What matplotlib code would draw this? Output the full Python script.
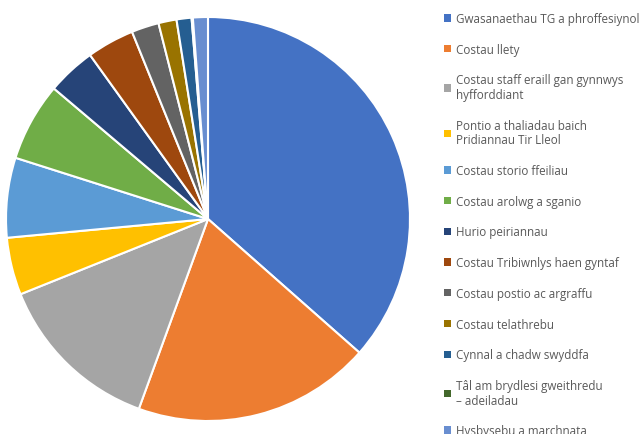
import matplotlib
matplotlib.use("Agg")
import matplotlib.pyplot as plt

categories = [
    "Gwasanaethau TG a phroffesiynol",
    "Costau llety",
    "Costau staff eraill gan gynnwys\nhyfforddiant",
    "Pontio a thaliadau baich\nPridiannau Tir Lleol",
    "Costau storio ffeiliau",
    "Costau arolwg a sganio",
    "Hurio peiriannau",
    "Costau Tribiwnlys haen gyntaf",
    "Costau postio ac argraffu",
    "Costau telathrebu",
    "Cynnal a chadw swyddfa",
    "Tâl am brydlesi gweithredu\n– adeiladau",
    "Hysbysebu a marchnata",
]
values = [36.6, 19.1, 13.4, 4.6, 6.4, 6.3, 3.9, 3.8, 2.2, 1.45, 1.2, 0.1, 1.2]
colors = ["#4472C4", "#ED7D31", "#A5A5A5", "#FFC000", "#5B9BD5", "#70AD47",
          "#264478", "#9E480E", "#636363", "#997300", "#255E91", "#43682B", "#698ED0"]

W, H = 643, 435
fig = plt.figure(figsize=(W / 100, H / 100), dpi=100)
cx, cy, r = 208, 220, 202
ax = fig.add_axes([(cx - r) / W, (H - cy - r) / H, 2 * r / W, 2 * r / H])
wedges, _ = ax.pie(values, colors=colors, startangle=90, counterclock=False,
                   wedgeprops=dict(edgecolor="white", linewidth=1.5))
ax.set_xlim(-1, 1)
ax.set_ylim(-1, 1)
ax.set_aspect("equal")

leg = fig.legend(wedges, categories, loc="upper left",
                 bbox_to_anchor=(444 / W, (H - 13) / H), frameon=False,
                 prop={"family": "Open Sans", "size": 8.4},
                 labelcolor="#595959", handlelength=0.6, handleheight=0.6,
                 handletextpad=0.42, labelspacing=1.52, borderaxespad=0,
                 borderpad=0)
for h in leg.legend_handles:
    h.set_linewidth(0)
for t in leg.get_texts():
    t.set_linespacing(1.15)

fig.savefig("out.png", dpi=100)
